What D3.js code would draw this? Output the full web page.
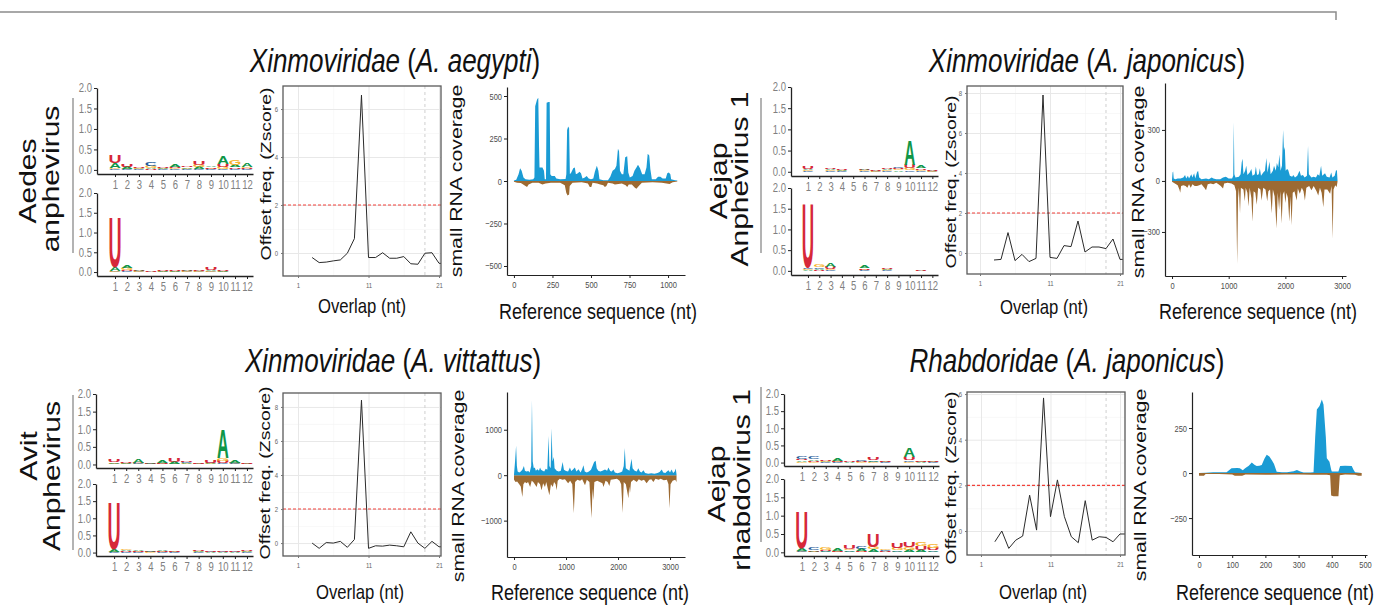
<!DOCTYPE html>
<meta charset="utf-8">
<script src="https://cdn.jsdelivr.net/npm/d3@7"></script>
<style>
  body { margin: 0; background: #fff; }
  svg { font-family: "Liberation Sans", Arial, Helvetica, sans-serif; display: block; }
  text { white-space: pre; }
</style>
<div id="js_chart"></div>
<script>
// ---------------- data ----------------
const bases = ["A", "C", "G", "U"];
const baseColors = { A: "#109648", C: "#255C99", G: "#F7B32B", U: "#D62839" };
const logoPos = [1, 2, 3, 4, 5, 6, 7, 8, 9, 10, 11, 12];
const logoYTicks = [0, 0.5, 1, 1.5, 2];

// [A, C, G, U] bits per position
const logo1Top = [[0.12,0.02,0.02,0.20],[0.05,0.01,0.02,0.06],[0.02,0.01,0.02,0.02],[0.03,0.09,0.05,0.02],[0.02,0.01,0.01,0.02],[0.07,0.02,0.02,0.03],[0.03,0.01,0.02,0.03],[0.05,0.02,0.06,0.10],[0.04,0.01,0.02,0.03],[0.20,0.03,0.05,0.06],[0.06,0.02,0.12,0.04],[0.09,0.02,0.03,0.02]];
const logo1Bot = [[0.09,0.01,0.02,1.25],[0.06,0.02,0.05,0.03],[0.02,0.01,0.01,0.01],[0.005,0,0,0.005],[0.01,0.005,0.005,0.01],[0.01,0.005,0.005,0.01],[0.015,0.005,0.01,0.01],[0.015,0.005,0.01,0.015],[0.04,0.005,0.01,0.05],[0.01,0.005,0.005,0.01],[0,0,0,0],[0,0,0,0]];
const logo2Top = [[0.04,0.01,0.02,0.05],[0,0,0,0],[0.03,0.01,0.02,0.03],[0.02,0.01,0.01,0.02],[0,0,0,0],[0.04,0.01,0.02,0.02],[0.01,0.005,0.005,0.01],[0.03,0.02,0.02,0.04],[0.03,0.04,0.03,0.03],[0.58,0.04,0.05,0.08],[0.06,0.02,0.02,0.04],[0.01,0.005,0.005,0.01]];
const logo2Bot = [[0.02,0.03,0.02,1.52],[0.03,0.04,0.06,0.02],[0.08,0.02,0.02,0.06],[0,0,0,0],[0,0,0,0],[0.05,0.01,0.01,0.04],[0,0,0,0],[0.03,0.01,0.01,0.04],[0,0,0,0],[0,0,0,0],[0.005,0,0,0.01],[0,0,0,0]];
const logo3Top = [[0.05,0.01,0.01,0.07],[0.02,0.005,0.005,0.02],[0.09,0.02,0.01,0.02],[0.02,0.01,0.005,0.01],[0.06,0.01,0.01,0.02],[0.06,0.01,0.01,0.09],[0.03,0.03,0.01,0.03],[0.01,0.005,0.005,0.01],[0.02,0.02,0.01,0.07],[0.80,0.04,0.08,0.06],[0.08,0.02,0.01,0.02],[0.01,0.005,0.005,0.01]];
const logo3Bot = [[0.06,0.005,0.01,1.38],[0.04,0.02,0.05,0.02],[0.04,0.01,0.01,0.02],[0.02,0.01,0.005,0.01],[0.05,0.01,0.01,0.02],[0.01,0.005,0.005,0.01],[0,0,0,0],[0.03,0.01,0.01,0.05],[0.005,0.005,0,0.005],[0.005,0.005,0,0.005],[0.005,0.005,0,0.005],[0.03,0.01,0.01,0.05]];
const logo4Top = [[0.04,0.07,0.02,0.05],[0.05,0.07,0.01,0.03],[0.02,0.01,0.02,0.02],[0.06,0.01,0.01,0.03],[0.005,0,0,0.005],[0.02,0.05,0.01,0.02],[0.04,0.02,0.01,0.07],[0.01,0.005,0.005,0.01],[0,0,0,0],[0.25,0.05,0.03,0.07],[0.01,0.01,0.01,0.02],[0.01,0.005,0.005,0.01]];
const logo4Bot = [[0.07,0.03,0.01,1.0],[0.03,0.05,0.01,0.01],[0.02,0.01,0.06,0.03],[0.05,0.01,0.01,0.02],[0.03,0.02,0.04,0.11],[0.05,0.06,0.02,0.02],[0.06,0.02,0.06,0.35],[0.02,0.03,0.03,0.02],[0.04,0.02,0.05,0.15],[0.05,0.02,0.08,0.12],[0.05,0.02,0.12,0.10],[0.04,0.02,0.10,0.07]];

// overlap z-scores
const overlapX = [3,4,5,6,7,8,9,10,11,12,13,14,15,16,17,18,19,20,21,22];
const overlapXTicks = [1, 11, 21];
const overlapMinorX = [6, 16];
const overlap1 = [-0.19,-0.40,-0.38,-0.33,-0.29,-0.01,0.6,6.58,-0.19,-0.19,0.01,-0.22,-0.22,-0.15,-0.45,-0.47,-0.01,0.01,-0.43,-0.45];
const overlap2 = [-0.35,-0.32,1.02,-0.38,-0.07,-0.43,-0.27,7.9,-0.22,-0.27,0.37,0.32,1.6,0.05,0.3,0.3,0.22,0.7,-0.32,-0.32];
const overlap3 = [0,-0.31,0.03,0,0.1,-0.25,0.21,8.4,-0.31,-0.16,-0.18,-0.12,-0.16,-0.22,0.66,0,-0.31,0.1,-0.22,-0.22];
const overlap4 = [-0.47,0,-0.76,-0.4,-0.22,1.57,0.04,5.83,0.63,2.24,0.63,-0.25,-0.51,1.33,-0.4,-0.25,-0.28,-0.47,-0.13,-0.13];
const zThreshold = 2;
const overlapMark = 19;

// coverage [position, reads]
const cov1Plus = [[0,3],[15,8],[30,40],[40,75],[50,60],[62,20],[75,10],[100,8],[125,10],[133,20],[138,440],[150,480],[158,490],[163,200],[166,80],[185,80],[195,60],[200,10],[208,10],[212,460],[225,465],[232,465],[236,40],[245,30],[265,30],[275,15],[300,10],[335,12],[340,40],[345,300],[352,320],[358,310],[363,40],[372,50],[385,75],[395,80],[402,40],[415,45],[425,55],[435,45],[445,15],[460,20],[472,30],[485,15],[500,10],[515,15],[525,55],[538,90],[548,60],[555,10],[580,5],[610,5],[625,25],[640,60],[655,70],[665,90],[675,190],[682,175],[688,60],[700,40],[710,40],[722,140],[735,145],[742,50],[752,20],[770,30],[782,60],[795,80],[805,95],[818,75],[832,40],[848,40],[860,80],[868,160],[878,150],[885,70],[895,10],[920,10],[935,25],[950,25],[965,15],[985,15],[995,45],[1005,50],[1015,40],[1020,10],[1045,5],[1060,3]];
const cov1Minus = [[0,-5],[20,-10],[45,-12],[60,-20],[75,-30],[85,-35],[95,-20],[120,-10],[160,-10],[185,-20],[205,-15],[240,-10],[300,-10],[330,-25],[340,-70],[348,-85],[358,-80],[362,-30],[380,-10],[440,-8],[480,-15],[492,-35],[502,-35],[510,-10],[540,-15],[560,-20],[580,-25],[590,-35],[600,-30],[610,-10],[640,-15],[655,-20],[700,-15],[725,-25],[735,-35],[745,-20],[765,-20],[785,-40],[795,-45],[810,-30],[830,-10],[900,-8],[960,-10],[990,-15],[1010,-18],[1030,-8],[1060,-3]];
const cov2Plus = [[0,10],[10,50],[20,55],[30,15],[60,10],[100,15],[150,15],[200,20],[230,35],[250,15],[280,30],[300,15],[340,40],[360,20],[390,45],[410,15],[440,50],[460,60],[480,20],[520,10],[600,15],[650,10],[700,20],[730,15],[780,10],[850,10],[900,20],[950,25],[1000,15],[1060,15],[1080,30],[1090,345],[1100,40],[1120,20],[1180,25],[1210,40],[1230,110],[1245,130],[1260,40],[1290,60],[1310,90],[1330,35],[1370,50],[1400,70],[1420,30],[1460,40],[1480,85],[1500,35],[1530,40],[1550,75],[1570,30],[1610,50],[1640,60],[1665,135],[1685,50],[1720,115],[1740,40],[1780,60],[1800,90],[1830,60],[1850,105],[1875,80],[1895,155],[1915,60],[1940,90],[1960,300],[1975,180],[1990,200],[2005,60],[2030,70],[2050,65],[2080,30],[2120,25],[2140,35],[2170,20],[2210,30],[2250,60],[2275,30],[2310,35],[2340,20],[2380,30],[2400,205],[2415,40],[2460,20],[2500,25],[2540,20],[2570,40],[2600,30],[2630,90],[2650,30],[2700,45],[2730,25],[2780,20],[2810,50],[2830,20],[2870,30],[2895,65],[2910,60],[2920,5]];
const cov2Minus = [[0,-5],[50,-15],[100,-25],[130,-50],[145,-70],[160,-30],[200,-25],[240,-30],[270,-40],[300,-20],[330,-40],[360,-20],[400,-30],[440,-30],[480,-25],[520,-20],[570,-40],[600,-55],[630,-20],[680,-15],[730,-20],[780,-10],[820,-20],[860,-30],[900,-45],[920,-15],[980,-10],[1050,-15],[1100,-25],[1130,-60],[1150,-490],[1165,-100],[1180,-40],[1200,-190],[1215,-40],[1260,-50],[1285,-120],[1300,-40],[1330,-70],[1350,-150],[1370,-40],[1400,-100],[1420,-240],[1440,-60],[1470,-70],[1495,-140],[1520,-40],[1560,-50],[1580,-115],[1610,-40],[1650,-50],[1680,-120],[1700,-60],[1730,-50],[1760,-190],[1780,-50],[1810,-90],[1845,-280],[1865,-70],[1890,-170],[1910,-60],[1935,-250],[1955,-80],[1980,-60],[2000,-130],[2020,-70],[2045,-100],[2070,-240],[2090,-90],[2110,-260],[2130,-70],[2160,-60],[2200,-115],[2220,-45],[2255,-75],[2290,-40],[2320,-60],[2345,-115],[2370,-40],[2420,-30],[2460,-55],[2500,-30],[2550,-60],[2580,-85],[2610,-40],[2640,-70],[2670,-155],[2690,-50],[2740,-50],[2790,-75],[2815,-30],[2835,-340],[2850,-50],[2880,-25],[2905,-35],[2920,-5]];
const cov3Plus = [[0,20],[20,300],[40,650],[55,200],[70,80],[100,60],[130,80],[160,120],[190,200],[210,100],[240,80],[275,90],[300,60],[330,200],[345,1650],[360,300],[380,150],[400,170],[420,100],[450,130],[480,100],[500,170],[520,120],[550,100],[580,80],[610,140],[640,120],[665,860],[680,200],[705,150],[722,1030],[740,300],[765,400],[780,150],[820,100],[860,80],[900,100],[935,290],[960,120],[1000,90],[1040,80],[1075,170],[1100,90],[1130,120],[1170,170],[1200,80],[1240,130],[1280,60],[1310,130],[1335,220],[1360,80],[1400,60],[1440,80],[1480,120],[1510,200],[1540,290],[1570,315],[1590,150],[1620,100],[1660,80],[1700,100],[1750,125],[1790,100],[1815,170],[1850,90],[1880,80],[1910,125],[1940,60],[1990,40],[2040,60],[2080,80],[2110,200],[2130,600],[2150,150],[2190,120],[2220,100],[2260,360],[2280,150],[2320,100],[2360,80],[2390,150],[2420,80],[2450,60],[2490,110],[2520,50],[2580,30],[2640,40],[2700,30],[2760,50],[2800,70],[2840,125],[2870,60],[2910,50],[2940,80],[2970,110],[3000,60],[3030,125],[3060,50],[3090,80],[3110,145],[3125,20]];
const cov3Minus = [[0,-100],[30,-150],[60,-140],[100,-200],[130,-250],[160,-480],[180,-200],[210,-150],[240,-180],[270,-150],[310,-260],[340,-120],[370,-150],[400,-200],[435,-260],[460,-150],[500,-200],[530,-330],[560,-180],[595,-260],[620,-150],[650,-300],[680,-440],[710,-200],[745,-260],[770,-150],[800,-200],[820,-330],[840,-120],[880,-80],[930,-100],[980,-90],[1040,-180],[1080,-120],[1120,-200],[1150,-840],[1175,-150],[1220,-100],[1270,-120],[1310,-90],[1365,-220],[1400,-100],[1450,-150],[1490,-950],[1510,-300],[1525,-550],[1545,-150],[1600,-120],[1650,-150],[1700,-180],[1720,-260],[1760,-120],[1800,-150],[1833,-240],[1860,-100],[1920,-90],[1980,-80],[2030,-120],[2060,-200],[2090,-830],[2110,-150],[2150,-200],[2200,-510],[2215,-250],[2230,-400],[2250,-150],[2300,-100],[2360,-150],[2400,-90],[2450,-120],[2500,-100],[2550,-180],[2600,-100],[2640,-90],[2680,-150],[2720,-80],[2780,-100],[2820,-80],[2880,-110],[2940,-100],[2970,-200],[2990,-730],[3010,-200],[3050,-120],[3100,-100],[3125,-150]];
const cov4Plus = [[0,0],[20,2],[43,5],[83,5],[98,26],[115,28],[123,26],[132,15],[139,26],[150,40],[159,58],[168,45],[174,39],[182,40],[189,45],[197,80],[204,101],[212,92],[220,70],[226,50],[234,7],[250,5],[265,5],[285,10],[295,17],[305,8],[315,3],[335,3],[345,5],[350,200],[355,353],[363,372],[370,409],[375,381],[382,200],[385,82],[393,63],[398,20],[400,8],[420,8],[425,39],[440,40],[460,39],[465,20],[470,5],[490,0]];
const cov4Minus = [[0,-15],[15,-15],[20,-5],[60,-5],[100,-8],[108,-15],[130,-15],[140,-8],[200,-10],[260,-8],[300,-8],[340,-10],[385,-10],[395,-12],[398,-125],[405,-129],[420,-129],[424,-12],[440,-8],[470,-10],[480,-15],[490,-15]];

const covXTicks1 = [0, 250, 500, 750, 1000], covYTicks1 = [-500, -250, 0, 250, 500];
const covXTicks2 = [0, 1000, 2000, 3000], covYTicks2 = [-300, 0, 300];
const covXTicks3 = [0, 1000, 2000, 3000], covYTicks3 = [-1000, 0, 1000];
const covXTicks4 = [0, 100, 200, 300, 400, 500], covYTicks4 = [-250, 0, 250];

const titles = [
  [["Xinmoviridae", 1], [" (", 0], ["A. aegypti", 1], [")", 0]],
  [["Xinmoviridae", 1], [" (", 0], ["A. japonicus", 1], [")", 0]],
  [["Xinmoviridae", 1], [" (", 0], ["A. vittattus", 1], [")", 0]],
  [["Rhabdoridae", 1], [" (", 0], ["A. japonicus", 1], [")", 0]]
];
const rowLabels = [["Aedes", "anphevirus"], ["Aejap", "Anphevirus 1"], ["Avit", "Anphevirus"], ["Aejap", "rhabdovirus 1"]];
const overlapLabel = "Overlap (nt)", zLabel = "Offset freq. (Zscore)";
const covXLabel = "Reference sequence (nt)", covYLabel = "small RNA coverage";

// ---------------- layout ----------------
const FONT = "'Liberation Sans', Arial, Helvetica, sans-serif";
const BLUE = "#1a9bd4", BROWN = "#9c6a32";
const SY = 1.25;   // the figure is vertically stretched

const panels = [
  { title: titles[0], tx: 395, ty: 72, row: rowLabels[0], rx: [36, 59], ry: [181, 179], line: [73, 98, 253],
    logoX: [97, 253], logos: [{ data: logo1Top, y: [174, 88] }, { data: logo1Bot, y: [276, 193] }],
    ov: { box: [283, 441, 86, 276], xd: [-1.13, 21.28], yd: [-0.96, 6.96], data: overlap1, yTicks: [0, 2, 4, 6], minor: [1, 3, 5], lx: 362, ly: 313, zx: 271, zy: 174 },
    cov: { x: [507, 685], y: [275, 87], xd: [-45, 1110], yd: [-553, 553], plus: cov1Plus, minus: cov1Minus, xTicks: covXTicks1, yTicks: covYTicks1, lx: 598, ly: 319, yx: 462, yy: 181 } },
  { title: titles[1], tx: 1087, ty: 72, row: rowLabels[1], rx: [727, 748], ry: [181, 179], line: [761, 98, 253],
    logoX: [791, 938], logos: [{ data: logo2Top, y: [176, 87] }, { data: logo2Bot, y: [275, 188] }],
    ov: { box: [967, 1123, 86, 274], xd: [-0.86, 21.43], yd: [-1.05, 8.35], data: overlap2, yTicks: [0, 2, 4, 6, 8], minor: [1, 3, 5, 7], lx: 1044, ly: 314, zx: 956, zy: 182 },
    cov: { x: [1165, 1346], y: [276, 83], xd: [-124, 3070], yd: [-559, 576], plus: cov2Plus, minus: cov2Minus, xTicks: covXTicks2, yTicks: covYTicks2, lx: 1258, ly: 319, yx: 1144, yy: 182 } },
  { title: titles[2], tx: 393, ty: 372, row: rowLabels[2], rx: [37, 60], ry: [456, 476], line: [73, 395, 550],
    logoX: [96, 253], logos: [{ data: logo3Top, y: [468, 394] }, { data: logo3Bot, y: [556, 484] }],
    ov: { box: [283, 441, 393, 556], xd: [-1.13, 21.28], yd: [-0.76, 8.82], data: overlap3, yTicks: [0, 2, 4, 6, 8], minor: [1, 3, 5, 7], lx: 360, ly: 599, zx: 270, zy: 473 },
    cov: { x: [507, 685], y: [557, 392], xd: [-135, 3288], yd: [-1800, 1830], plus: cov3Plus, minus: cov3Minus, xTicks: covXTicks3, yTicks: covYTicks3, lx: 590, ly: 600, yx: 464, yy: 486 } },
  { title: titles[3], tx: 1067, ty: 372, row: rowLabels[3], rx: [725, 750], ry: [484, 480], line: [761, 387, 542],
    logoX: [784, 939], logos: [{ data: logo4Top, y: [466, 394] }, { data: logo4Bot, y: [556, 479] }],
    ov: { box: [967, 1125, 392, 555], xd: [-1.01, 21.72], yd: [-1.05, 6.09], data: overlap4, yTicks: [0, 2, 4, 6], minor: [1, 3, 5], lx: 1043, ly: 599, zx: 956, zy: 478 },
    cov: { x: [1192, 1367], y: [555, 392], xd: [-21, 506], yd: [-455, 450], plus: cov4Plus, minus: cov4Minus, xTicks: covXTicks4, yTicks: covYTicks4, lx: 1275, ly: 600, yx: 1146, yy: 485 } }
];

// ---------------- drawing ----------------
const svg = d3.select("#js_chart").append("svg")
  .attr("width", 1382).attr("height", 606);

// header rule of the cropped figure
svg.append("path").attr("d", "M0,12H1336V20").attr("fill", "none")
  .attr("stroke", "#8c8c8c").attr("stroke-width", 1.5);

// glyph ink boxes for logo letters
const ctx = document.createElement("canvas").getContext("2d");
ctx.font = "bold 100px " + FONT;
const glyph = {};
bases.forEach(function (b) {
  const m = ctx.measureText(b);
  glyph[b] = { l: m.actualBoundingBoxLeft, r: m.actualBoundingBoxRight, a: m.actualBoundingBoxAscent, d: m.actualBoundingBoxDescent };
});

// stretched label; rotated ones sit in their own group
function label(g, x, y, str, size, rotate) {
  const holder = g.append("g")
    .attr("transform", "translate(" + x + "," + y + ") scale(1," + SY + ")");
  return holder.append("text")
    .attr("transform", rotate ? "rotate(-90)" : null)
    .attr("text-anchor", "middle").attr("font-size", size).attr("fill", "#111")
    .text(str);
}

function styleAxis(a, size, color, lineColor) {
  a.attr("font-family", FONT);
  a.selectAll("text").attr("font-size", size).attr("fill", color)
    .attr("transform", "scale(1," + SY + ")");
  a.selectAll(".tick line").attr("stroke", lineColor);
  a.select(".domain").attr("stroke", lineColor);
}

function drawLogo(g, xr, yr, data) {
  const x = d3.scaleLinear().domain([-0.5, 12.5]).range(xr);
  const y = d3.scaleLinear().domain([-0.1, 2]).range(yr);
  data.forEach(function (row, i) {
    const pos = logoPos[i];
    const stack = bases.map(function (b, j) { return { b: b, h: row[j] }; })
      .filter(function (d) { return d.h > 0; })
      .sort(function (a, b) { return a.h - b.h; });
    let cum = 0;
    stack.forEach(function (d) {
      const yb = y(cum), yt = y(cum + d.h);
      cum += d.h;
      const m = glyph[d.b];
      const xl = x(pos - 0.46), w = x(pos + 0.46) - xl;
      // very short letters still show as a thin squiggle, as in the figure
      const hpx = Math.max(yb - yt, 0.9);
      g.append("text")
        .attr("transform", "translate(" + xl + "," + yb + ") scale(" + (w / (m.l + m.r)) + "," + (hpx / (m.a + m.d)) + ")")
        .attr("x", m.l).attr("y", -m.d)
        .attr("font-size", 100).attr("font-weight", "bold").attr("font-family", FONT)
        .attr("fill", baseColors[d.b]).text(d.b);
    });
  });
  const ay = g.append("g").attr("transform", "translate(" + xr[0] + ",0)")
    .call(d3.axisLeft(y).tickValues(logoYTicks).tickFormat(d3.format(".1f")).tickSize(3).tickSizeOuter(0).tickPadding(2));
  styleAxis(ay, 9.5, "#808080", "#222");
  const ax = g.append("g").attr("transform", "translate(0," + yr[0] + ")")
    .call(d3.axisBottom(x).tickValues(logoPos).tickSize(3).tickSizeOuter(0).tickPadding(2.5));
  styleAxis(ax, 9.5, "#808080", "#222");
  g.selectAll(".domain").attr("stroke-width", 1.3);
}

function drawOverlap(g, o, id) {
  const [x0, x1, y0, y1] = o.box;
  const x = d3.scaleLinear().domain(o.xd).range([x0, x1]);
  const y = d3.scaleLinear().domain(o.yd).range([y1, y0]);
  const h = y1 - y0, w = x1 - x0;

  // grid drawn with axes (no labels)
  const gridStyle = function (sel, col, sw) {
    sel.select(".domain").remove();
    sel.selectAll("line").attr("stroke", col).attr("stroke-width", sw);
  };
  g.append("g").attr("transform", "translate(0," + y1 + ")")
    .call(d3.axisBottom(x).tickValues(overlapMinorX).tickSize(-h).tickFormat(""))
    .call(gridStyle, "#f3f3f3", 0.6);
  g.append("g").attr("transform", "translate(" + x0 + ",0)")
    .call(d3.axisLeft(y).tickValues(o.minor).tickSize(-w).tickFormat(""))
    .call(gridStyle, "#f3f3f3", 0.6);
  g.append("g").attr("transform", "translate(0," + y1 + ")")
    .call(d3.axisBottom(x).tickValues(overlapXTicks).tickSize(-h).tickFormat(""))
    .call(gridStyle, "#e8e8e8", 1);
  g.append("g").attr("transform", "translate(" + x0 + ",0)")
    .call(d3.axisLeft(y).tickValues(o.yTicks).tickSize(-w).tickFormat(""))
    .call(gridStyle, "#e8e8e8", 1);

  const defs = svg.select("defs").empty() ? svg.insert("defs", ":first-child") : svg.select("defs");
  defs.append("clipPath").attr("id", id).append("rect")
    .attr("x", x0).attr("y", y0).attr("width", w).attr("height", h);

  const marks = g.append("g").attr("clip-path", "url(#" + id + ")");
  marks.append("line")
    .attr("x1", x(overlapMark)).attr("x2", x(overlapMark)).attr("y1", y0).attr("y2", y1)
    .attr("stroke", "#cfcfcf").attr("stroke-dasharray", "3,3").attr("stroke-width", 1);
  marks.append("line")
    .attr("x1", x0).attr("x2", x1).attr("y1", y(zThreshold)).attr("y2", y(zThreshold))
    .attr("stroke", "#f2413a").attr("stroke-dasharray", "3,2").attr("stroke-width", 1.1);
  marks.append("path")
    .datum(o.data.map(function (v, i) { return [overlapX[i], v]; }))
    .attr("d", d3.line().x(function (d) { return x(d[0]); }).y(function (d) { return y(d[1]); }))
    .attr("fill", "none").attr("stroke", "#2b2b2b").attr("stroke-width", 1);

  g.append("rect").attr("x", x0).attr("y", y0).attr("width", w).attr("height", h)
    .attr("fill", "none").attr("stroke", "#5a5a5a").attr("stroke-width", 1.3);

  const ay = g.append("g").attr("transform", "translate(" + x0 + ",0)")
    .call(d3.axisLeft(y).tickValues(o.yTicks).tickSize(2).tickPadding(3));
  ay.select(".domain").remove();
  styleAxis(ay, 6, "#666", "#777");
  const ax = g.append("g").attr("transform", "translate(0," + y1 + ")")
    .call(d3.axisBottom(x).tickValues(overlapXTicks).tickSize(2).tickPadding(3));
  ax.select(".domain").remove();
  styleAxis(ax, 6, "#666", "#777");
}

function drawCoverage(g, c) {
  const x = d3.scaleLinear().domain(c.xd).range(c.x);
  const y = d3.scaleLinear().domain(c.yd).range(c.y);
  const area = d3.area()
    .x(function (d) { return x(d[0]); })
    .y0(y(0))
    .y1(function (d) { return y(d[1]); });
  g.append("path").datum(c.minus).attr("d", area).attr("fill", BROWN);
  g.append("path").datum(c.plus).attr("d", area).attr("fill", BLUE);

  const ay = g.append("g").attr("transform", "translate(" + c.x[0] + ",0)")
    .call(d3.axisLeft(y).tickValues(c.yTicks).tickFormat(d3.format("d")).tickSize(3).tickSizeOuter(0).tickPadding(2));
  styleAxis(ay, 7.5, "#4d4d4d", "#222");
  const ax = g.append("g").attr("transform", "translate(0," + c.y[0] + ")")
    .call(d3.axisBottom(x).tickValues(c.xTicks).tickFormat(d3.format("d")).tickSize(3).tickSizeOuter(0).tickPadding(2));
  styleAxis(ax, 7.5, "#4d4d4d", "#222");
  g.selectAll(".domain").attr("stroke-width", 1.2);
}

const titlesLayer = svg.append("g").attr("class", "axis-titles");
panels.forEach(function (p) {
  label(titlesLayer, p.ov.lx, p.ov.ly, overlapLabel, 16.7, false);
  label(titlesLayer, p.ov.zx, p.ov.zy, zLabel, 15.5, true);
  label(titlesLayer, p.cov.lx, p.cov.ly, covXLabel, 18, false);
  label(titlesLayer, p.cov.yx, p.cov.yy, covYLabel, 17, true);
});

panels.forEach(function (p, i) {
  const g = svg.append("g").attr("class", "panel" + (i + 1));

  // title with italic taxon names
  const t = g.append("text")
    .attr("transform", "translate(" + p.tx + "," + p.ty + ") scale(1," + SY + ")")
    .attr("text-anchor", "middle").attr("font-size", 26).attr("fill", "#111");
  p.title.forEach(function (part) {
    t.append("tspan").attr("font-style", part[1] ? "italic" : "normal").text(part[0]);
  });

  // virus name
  p.row.forEach(function (line, k) {
    label(g, p.rx[k], p.ry[k], line, 24, true);
  });
  g.append("line").attr("x1", p.line[0]).attr("x2", p.line[0]).attr("y1", p.line[1]).attr("y2", p.line[2])
    .attr("stroke", "#9a9a9a").attr("stroke-width", 1.5);

  p.logos.forEach(function (l) {
    drawLogo(g.append("g"), p.logoX, l.y, l.data);
  });
  drawOverlap(g.append("g"), p.ov, "ovclip" + i);
  drawCoverage(g.append("g"), p.cov);
});
</script>
